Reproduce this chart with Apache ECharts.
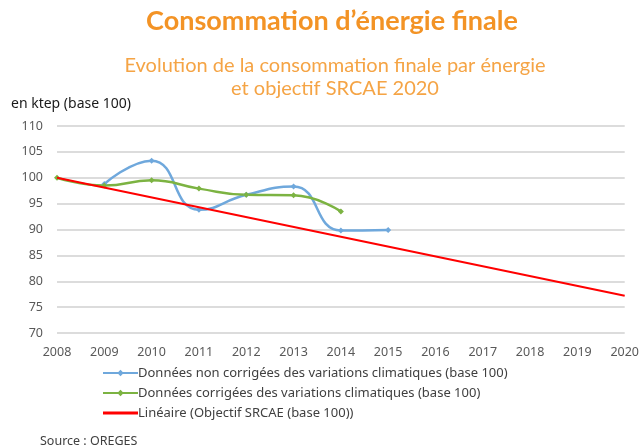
<!DOCTYPE html>
<html>
<head>
<meta charset="utf-8">
<script src="https://cdn.jsdelivr.net/npm/echarts@6/dist/echarts.min.js"></script>
<style>
html,body{margin:0;padding:0;background:#fff;}
#c{width:642px;height:445px;}
</style>
</head>
<body>
<div id="c"></div>
<script>
const years = [2008, 2009, 2010, 2011, 2012, 2013, 2014, 2015];
const nonCorrigees = [null, 98.8, 103.3, 93.8, 96.7, 98.3, 89.8, 89.9];
const corrigees = [100, 98.5, 99.5, 97.9, 96.7, 96.6, 93.5, null];
const objectifYears = [2008, 2020];
const objectifValues = [100, 77.2];
const yTicks = [70, 75, 80, 85, 90, 95, 100, 105, 110];

const names = [
  'Données non corrigées des variations climatiques (base 100)',
  'Données corrigées des variations climatiques (base 100)',
  'Linéaire (Objectif SRCAE (base 100))'
];

const pairs = (xs, ys) => xs.map((x, i) => [x, ys[i]]).filter(p => p[1] !== null);

const chart = echarts.init(document.getElementById('c'));
chart.setOption({
  animation: false,
  backgroundColor: '#ffffff',
  title: [
    {
      text: 'Consommation d’énergie finale',
      left: 327, top: 3, textAlign: 'center',
      textStyle: {fontFamily: 'Lato', fontWeight: 'bold', fontSize: 27, color: '#f39325'}
    },
    {
      text: 'Evolution de la consommation finale par énergie\net objectif SRCAE 2020',
      left: 330, top: 49, textAlign: 'center',
      textStyle: {fontFamily: 'Lato', fontWeight: 'normal', fontSize: 20, lineHeight: 23, color: '#f5a445'}
    },
    {
      text: 'en ktep (base 100)',
      left: 6, top: 92,
      textStyle: {fontFamily: 'Noto Sans', fontWeight: 'normal', fontSize: 14, color: '#1a1a1a'}
    },
    {
      text: 'Source : OREGES',
      left: 35, top: 430,
      textStyle: {fontFamily: 'Noto Sans', fontWeight: 'normal', fontSize: 12.5, color: '#404040'}
    }
  ],
  grid: {left: 57, right: 17, top: 126, bottom: 112, containLabel: false},
  legend: {
    orient: 'vertical',
    left: 97, top: 358,
    itemWidth: 35, itemHeight: 8, itemGap: 0,
    textStyle: {fontFamily: 'Noto Sans', fontSize: 13, lineHeight: 20, color: '#404040', padding: [0,0,0,-5]},
    data: [
      {name: names[0]},
      {name: names[1]},
      {name: names[2], icon: 'path://M0,0 L35,0 L35,3 L0,3 Z'}
    ]
  },
  xAxis: {
    type: 'value', min: 2008, max: 2020, interval: 1,
    axisLine: {show: false}, axisTick: {show: false},
    splitLine: {show: false},
    axisLabel: {color: '#595959', fontFamily: 'Noto Sans', fontSize: 12.5, margin: 13, formatter: v => String(v)}
  },
  yAxis: {
    type: 'value', min: yTicks[0], max: yTicks[yTicks.length - 1], interval: 5,
    axisLine: {show: false}, axisTick: {show: false},
    splitLine: {lineStyle: {color: '#dcdcdc', width: 2}},
    axisLabel: {color: '#595959', fontFamily: 'Noto Sans', fontSize: 12.5, margin: 14}
  },
  series: [
    {
      name: names[0], type: 'line', smooth: 0.5,
      data: pairs(years, nonCorrigees),
      symbol: 'diamond', symbolSize: 6,
      itemStyle: {color: '#6fa8dc'},
      lineStyle: {color: '#6fa8dc', width: 2.5},
      z: 3
    },
    {
      name: names[1], type: 'line', smooth: 0.5,
      data: pairs(years, corrigees),
      symbol: 'diamond', symbolSize: 6,
      itemStyle: {color: '#7cb342'},
      lineStyle: {color: '#7cb342', width: 2.5},
      z: 3
    },
    {
      name: names[2], type: 'line',
      data: pairs(objectifYears, objectifValues),
      symbol: 'none',
      itemStyle: {color: '#ff0000'},
      lineStyle: {color: '#ff0000', width: 2},
      z: 4
    }
  ]
});
</script>
</body>
</html>
